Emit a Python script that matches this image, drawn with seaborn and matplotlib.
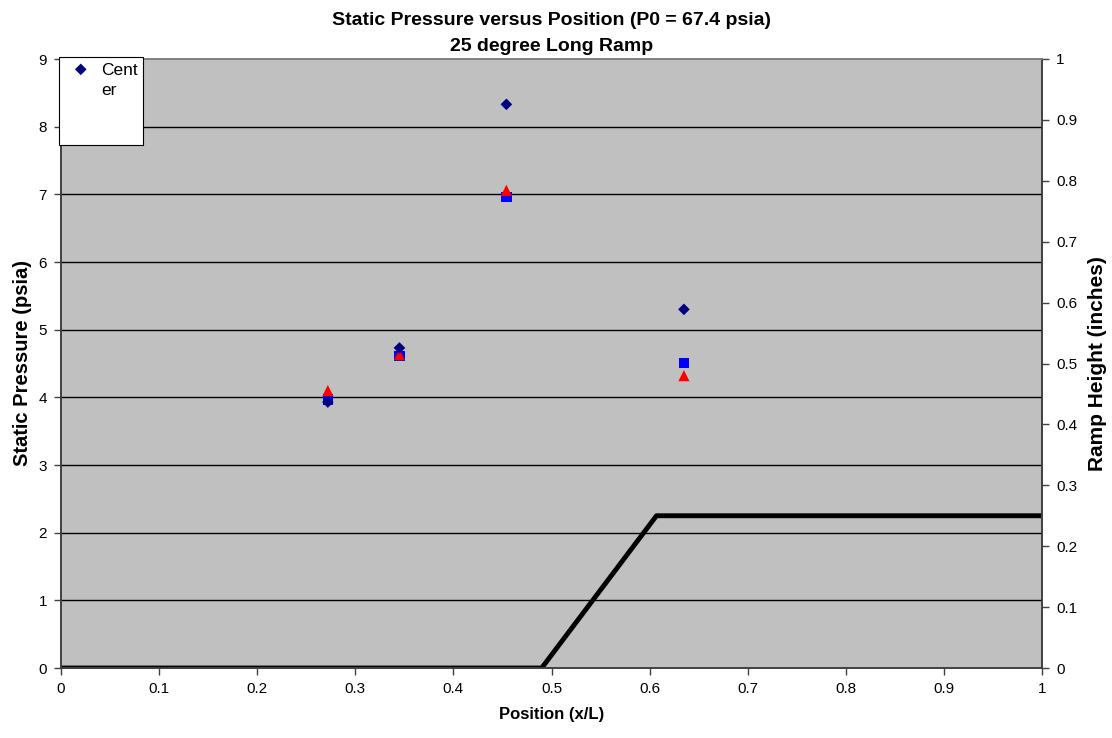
import matplotlib
matplotlib.use("Agg")
import matplotlib.pyplot as plt
from matplotlib.patches import Rectangle
import seaborn as sns
import numpy as np

positions = [0.272, 0.345, 0.454, 0.635]
center = [3.93, 4.73, 8.33, 5.30]
series_sq = [3.97, 4.61, 6.96, 4.51]
series_tri = [4.10, 4.63, 7.06, 4.32]
ramp_x = [0.0, 0.490, 0.607, 1.0]
ramp_h = [0.0, 0.0, 0.25, 0.25]

sns.set_theme(style="white")
plt.rcParams['font.family'] = ['Liberation Sans', 'DejaVu Sans']
plt.rcParams['text.color'] = 'black'
plt.rcParams['axes.labelcolor'] = 'black'
plt.rcParams['xtick.color'] = 'black'
plt.rcParams['ytick.color'] = 'black'

fig = plt.figure(figsize=(11.12, 7.38), dpi=100)
ax = fig.add_axes([61/1112, 1-668/738, (1042-61)/1112, (668-59)/738])
ax2 = ax.twinx()

ax.set_zorder(ax2.get_zorder() + 1)
ax.patch.set_visible(False)
ax2.patch.set_visible(True)
ax2.patch.set_facecolor('#c0c0c0')

sns.lineplot(x=ramp_x, y=ramp_h, ax=ax2, color='black', linewidth=3.5, legend=False)

sns.scatterplot(x=positions, y=series_sq, ax=ax, marker='s', color='#0000ff', s=55, edgecolor='none', zorder=3)
sns.scatterplot(x=positions, y=series_tri, ax=ax, marker='^', color='#ff0000', s=65, edgecolor='none', zorder=4)
sns.scatterplot(x=positions, y=center, ax=ax, marker='D', color='#000080', s=35, edgecolor='none', zorder=5, label='Cent\ner')

ax.set_xlim(0, 1)
ax.set_ylim(0, 9)
ax2.set_ylim(0, 1)
ax.set_xticks(np.arange(0, 1.01, 0.1))
ax.set_xticklabels(['0'] + [f'{v:.1f}' for v in np.arange(0.1, 1.0, 0.1)] + ['1'])
ax.set_yticks(range(0, 10))
ax2.set_yticks(np.arange(0, 1.01, 0.1))
ax2.set_yticklabels(['0'] + [f'{v:.1f}' for v in np.arange(0.1, 1.0, 0.1)] + ['1'])

for y in range(1, 9):
    ax.axhline(y, color='black', linewidth=1, zorder=1)

for a in (ax, ax2):
    for s in a.spines.values():
        s.set_color('#404040')
        s.set_linewidth(1.2)
    a.spines['top'].set_color('#808080')
    a.tick_params(axis='both', which='both', length=5, width=1, color='#404040', labelsize=11, direction='out', pad=5)
ax.tick_params(axis='both', bottom=True, left=True)
ax2.tick_params(axis='y', right=True)

ax.set_xlabel('Position (x/L)', fontsize=12, fontweight='bold', labelpad=8)
ax.set_ylabel('Static Pressure (psia)', fontsize=14.5, fontweight='bold', labelpad=5)
ax2.set_ylabel('Ramp Height (inches)', fontsize=15, fontweight='bold', labelpad=8)
ax.set_title('Static Pressure versus Position (P0 = 67.4 psia)\n25 degree Long Ramp', fontsize=14, fontweight='bold', pad=6, linespacing=1.63)

# legend frame (Excel-style box)
ax.add_patch(Rectangle((-0.002, (668-145)/609), 84/981, 87/609 + 0.002, transform=ax.transAxes,
                       facecolor='white', edgecolor='black', linewidth=0.8, clip_on=False, zorder=6))
leg = ax.legend(loc='upper left', bbox_to_anchor=(0.006, 1.002), frameon=False, fontsize=12.5,
                borderpad=0.3, handletextpad=0.7, borderaxespad=0, handlelength=1.0,
                scatteryoffsets=[1.4])
leg.set_zorder(7)
for t in leg.get_texts():
    t.set_linespacing(1.4)

fig.savefig('out.png', dpi=100)
